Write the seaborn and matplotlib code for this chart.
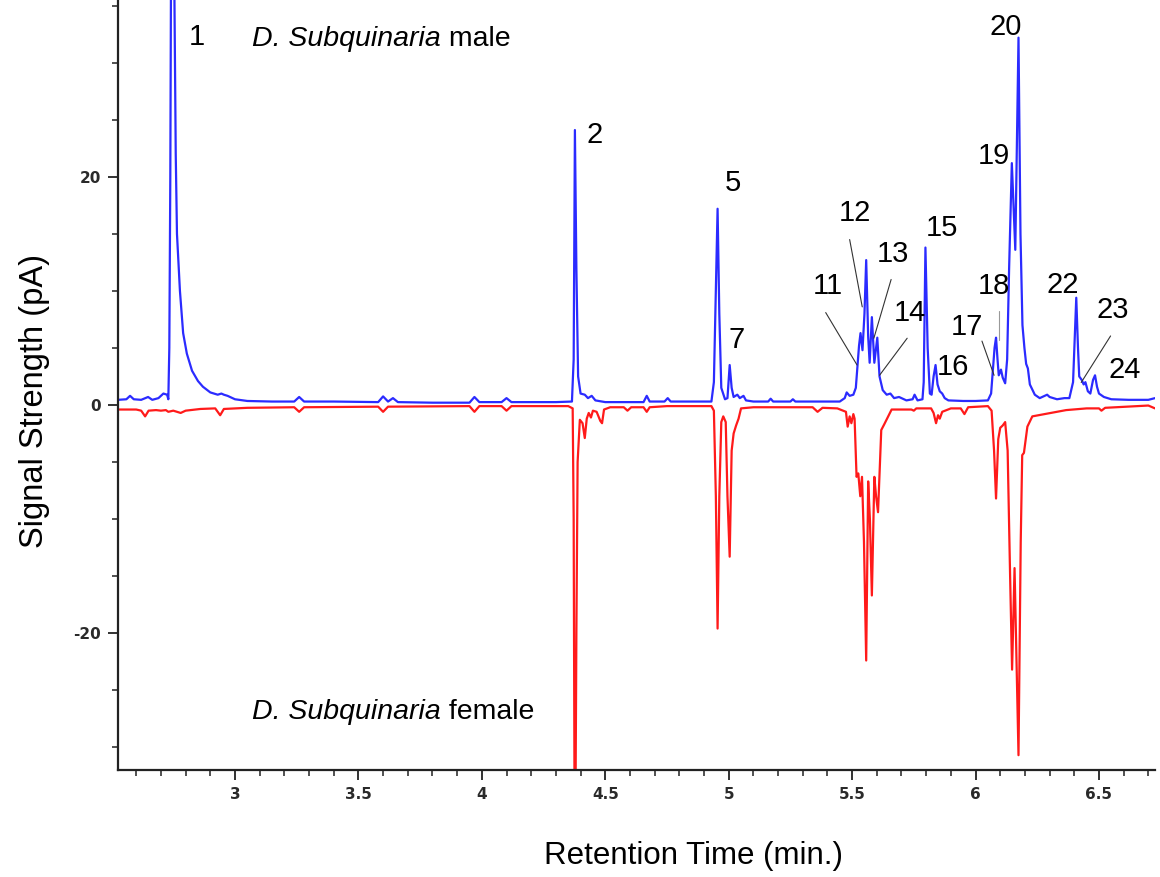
import numpy as np
import pandas as pd
import matplotlib
matplotlib.use("Agg")
import matplotlib.pyplot as plt
from matplotlib.ticker import MultipleLocator, FuncFormatter
import seaborn as sns

# ---------------- data ----------------
male_time = [2.526, 2.56, 2.575, 2.59, 2.62, 2.648, 2.665, 2.69, 2.71, 2.725,
             2.730, 2.734, 2.738, 2.742, 2.746, 2.750, 2.755, 2.760, 2.765, 2.777,
             2.79, 2.805, 2.826, 2.85, 2.87, 2.90, 2.93, 2.945, 2.955, 2.97,
             3.00, 3.05, 3.15, 3.24, 3.26, 3.28, 3.40, 3.58, 3.60, 3.62,
             3.64, 3.66, 3.80, 3.95, 3.97, 3.99, 4.08, 4.10, 4.12, 4.30,
             4.365, 4.372, 4.377, 4.383, 4.39, 4.40, 4.417, 4.43, 4.445, 4.46,
             4.50, 4.60, 4.655, 4.668, 4.68, 4.74, 4.753, 4.765, 4.93, 4.94,
             4.946, 4.955, 4.962, 4.97, 4.985, 4.995, 5.004, 5.012, 5.02, 5.035,
             5.045, 5.06, 5.07, 5.10, 5.16, 5.17, 5.18, 5.25, 5.26, 5.27,
             5.45, 5.47, 5.478, 5.49, 5.505, 5.515, 5.522, 5.528, 5.534, 5.542,
             5.550, 5.557, 5.565, 5.571, 5.58, 5.59, 5.602, 5.611, 5.624, 5.64,
             5.655, 5.67, 5.69, 5.72, 5.745, 5.753, 5.765, 5.785, 5.790, 5.797,
             5.806, 5.815, 5.822, 5.83, 5.838, 5.846, 5.855, 5.865, 5.875, 5.89,
             5.95, 6.00, 6.05, 6.063, 6.07, 6.077, 6.083, 6.089, 6.094, 6.103,
             6.11, 6.12, 6.128, 6.136, 6.147, 6.161, 6.174, 6.182, 6.19, 6.198,
             6.205, 6.212, 6.22, 6.24, 6.26, 6.28, 6.29, 6.30, 6.33, 6.36,
             6.38, 6.395, 6.408, 6.415, 6.42, 6.43, 6.438, 6.445, 6.455, 6.465,
             6.476, 6.484, 6.492, 6.50, 6.52, 6.55, 6.62, 6.70, 6.727]
male_signal = [0.45, 0.5, 0.8, 0.5, 0.45, 0.7, 0.45, 0.6, 1.0, 0.9,
               0.5, 5.0, 20.0, 45.0, 60.0, 50.0, 35.0, 22.0, 15.0, 10.0,
               6.3, 4.5, 3.0, 2.1, 1.6, 1.1, 0.9, 1.0, 0.9, 0.8,
               0.5, 0.35, 0.3, 0.3, 0.7, 0.3, 0.3, 0.25, 0.75, 0.3,
               0.6, 0.25, 0.2, 0.2, 0.7, 0.25, 0.25, 0.6, 0.25, 0.25,
               0.3, 4.0, 24.1, 12.0, 2.5, 1.0, 0.9, 0.6, 0.8, 0.4,
               0.25, 0.25, 0.25, 0.8, 0.3, 0.3, 0.6, 0.3, 0.3, 2.0,
               8.0, 17.2, 8.0, 1.5, 0.5, 0.6, 3.5, 1.5, 0.7, 0.9,
               0.6, 0.8, 0.4, 0.3, 0.3, 0.55, 0.3, 0.3, 0.5, 0.3,
               0.3, 0.6, 1.1, 0.8, 0.9, 1.5, 3.5, 5.2, 6.3, 4.8,
               8.0, 12.7, 6.0, 3.7, 7.7, 3.7, 5.9, 2.5, 1.3, 0.9,
               1.0, 0.6, 0.7, 0.4, 0.5, 0.9, 0.4, 0.5, 2.0, 13.8,
               5.0, 1.0, 0.9, 2.5, 3.5, 1.8, 1.2, 1.0, 0.6, 0.4,
               0.35, 0.35, 0.4, 1.0, 3.0, 5.0, 5.9, 4.0, 2.6, 3.1,
               2.4, 1.9, 4.0, 12.0, 21.2, 13.6, 32.2, 15.0, 7.0, 5.0,
               3.6, 3.2, 1.8, 0.9, 0.6, 0.8, 0.9, 0.7, 0.5, 0.6,
               0.6, 2.0, 9.4, 5.0, 2.5, 2.2, 1.8, 2.0, 1.2, 1.0,
               2.2, 2.6, 1.6, 1.0, 0.7, 0.5, 0.45, 0.45, 0.6]

female_time = [2.526, 2.60, 2.62, 2.636, 2.65, 2.68, 2.70, 2.72, 2.73, 2.75,
               2.78, 2.80, 2.86, 2.92, 2.94, 2.955, 3.05, 3.24, 3.26, 3.28,
               3.58, 3.60, 3.62, 3.95, 3.97, 3.99, 4.08, 4.10, 4.12, 4.35,
               4.368, 4.372, 4.377, 4.383, 4.388, 4.397, 4.408, 4.417, 4.425, 4.433,
               4.442, 4.45, 4.465, 4.48, 4.487, 4.495, 4.52, 4.575, 4.59, 4.605,
               4.655, 4.668, 4.68, 4.75, 4.93, 4.94, 4.948, 4.955, 4.962, 4.97,
               4.978, 4.988, 4.995, 5.004, 5.012, 5.02, 5.03, 5.04, 5.05, 5.10,
               5.34, 5.36, 5.38, 5.44, 5.475, 5.482, 5.49, 5.497, 5.505, 5.51,
               5.518, 5.525, 5.533, 5.54, 5.548, 5.557, 5.565, 5.572, 5.58, 5.59,
               5.597, 5.605, 5.618, 5.63, 5.66, 5.74, 5.75, 5.76, 5.82, 5.83,
               5.84, 5.848, 5.855, 5.865, 5.90, 5.94, 5.955, 5.97, 6.05, 6.065,
               6.075, 6.083, 6.092, 6.10, 6.11, 6.12, 6.13, 6.14, 6.148, 6.158,
               6.174, 6.183, 6.189, 6.196, 6.21, 6.23, 6.367, 6.45, 6.50, 6.51,
               6.525, 6.70, 6.727]
female_signal = [-0.4, -0.4, -0.5, -1.0, -0.5, -0.45, -0.5, -0.45, -0.6, -0.5,
                 -0.7, -0.5, -0.35, -0.3, -0.9, -0.35, -0.25, -0.2, -0.6, -0.2,
                 -0.15, -0.6, -0.15, -0.1, -0.6, -0.1, -0.1, -0.5, -0.1, -0.1,
                 -0.3, -10.0, -45.0, -20.0, -5.0, -1.3, -1.6, -2.9, -1.2, -0.7,
                 -1.1, -0.5, -0.6, -1.4, -1.6, -0.4, -0.2, -0.2, -0.5, -0.2,
                 -0.2, -0.6, -0.2, -0.1, -0.1, -0.5, -8.0, -19.6, -8.0, -1.5,
                 -1.0, -1.5, -8.0, -13.3, -4.0, -2.5, -1.8, -1.2, -0.3, -0.2,
                 -0.2, -0.6, -0.25, -0.3, -0.6, -1.9, -1.0, -1.6, -0.8, -1.2,
                 -6.3, -6.0, -8.0, -6.3, -12.0, -22.4, -6.7, -10.0, -16.7, -6.3,
                 -8.0, -9.4, -2.2, -1.7, -0.4, -0.4, -0.5, -0.3, -0.3, -0.7,
                 -1.6, -0.9, -1.2, -0.6, -0.3, -0.3, -0.8, -0.2, -0.1, -0.5,
                 -4.0, -8.2, -3.0, -2.0, -1.8, -1.5, -4.0, -15.0, -23.2, -14.3,
                 -30.7, -12.0, -4.4, -4.2, -1.9, -1.0, -0.45, -0.3, -0.3, -0.5,
                 -0.25, -0.05, -0.3]

# peak labels: text, label position (time, signal)
peak_labels = ["1", "2", "5", "7", "11", "12", "13", "14", "15", "16",
               "17", "18", "19", "20", "22", "23", "24"]
label_time = [2.845, 4.455, 5.016, 5.032, 5.40, 5.51, 5.664, 5.733, 5.862, 5.907,
              5.964, 6.073, 6.073, 6.124, 6.352, 6.557, 6.605]
label_signal = [32.3, 23.7, 19.5, 5.7, 10.4, 16.8, 13.2, 8.1, 15.5, 3.3,
                6.8, 10.4, 21.8, 33.1, 10.5, 8.3, 3.1]

# leader lines: (label, start time, start signal, end time, end signal)
leader_label = ["11", "12", "13", "14", "17", "18", "23"]
leader_t0 = [5.393, 5.490, 5.658, 5.723, 6.026, 6.097, 6.547]
leader_v0 = [8.1, 14.5, 11.0, 5.85, 5.6, 8.2, 6.05]
leader_t1 = [5.520, 5.541, 5.588, 5.611, 6.075, 6.097, 6.428]
leader_v1 = [3.5, 8.6, 5.85, 2.6, 2.6, 5.7, 1.97]

species = "D. Subquinaria"
sample_labels = [" male", " female"]
sample_time = [3.069, 3.069]
sample_signal = [31.5, -27.5]

x_ticks = [3, 3.5, 4, 4.5, 5, 5.5, 6, 6.5]
y_ticks = [-20, 0, 20]

# ---------------- plotting ----------------
sns.set_theme(style="white")
plt.rcParams["font.family"] = ["Liberation Sans", "DejaVu Sans"]

fig = plt.figure(figsize=(11.6, 8.77), dpi=100)
ax = fig.add_axes([0.1017, 0.122, 0.8940, 0.878])

male = pd.DataFrame({"time": male_time, "signal": male_signal})
female = pd.DataFrame({"time": female_time, "signal": female_signal})

sns.lineplot(data=male, x="time", y="signal", ax=ax, color="#2b2bff",
             lw=1.6, estimator=None, sort=False)
sns.lineplot(data=female, x="time", y="signal", ax=ax, color="#ff1a1a",
             lw=1.6, estimator=None, sort=False)

ax.set_xlim(2.526, 6.727)
ax.set_ylim(-32.0, 35.5)

for s in ["top", "right"]:
    ax.spines[s].set_visible(False)
for s in ["left", "bottom"]:
    ax.spines[s].set_color("#222222")
    ax.spines[s].set_linewidth(1.6)

ax.set_xticks(x_ticks)
ax.set_yticks(y_ticks)
ax.xaxis.set_minor_locator(MultipleLocator(0.1))
ax.yaxis.set_minor_locator(MultipleLocator(5))
fmt = FuncFormatter(lambda v, p: ("%g" % v))
ax.xaxis.set_major_formatter(fmt)
ax.yaxis.set_major_formatter(fmt)
ax.tick_params(axis="both", which="major", direction="out", length=7, width=1.3,
               color="#222222", labelsize=11, labelcolor="#2a2a2a", pad=5,
               bottom=True, left=True)
ax.tick_params(axis="both", which="minor", direction="out", length=4, width=1.1,
               color="#222222", bottom=True, left=True)
for lab in ax.get_xticklabels() + ax.get_yticklabels():
    lab.set_family("DejaVu Sans")
    lab.set_fontweight("bold")

ax.set_xlabel("Retention Time (min.)", fontsize=22.5, color="black")
ax.set_ylabel("Signal Strength (pA)", fontsize=23.5, color="black")
ax.xaxis.set_label_coords(0.5545, -0.092)
ax.yaxis.set_label_coords(-0.066, 0.479)

for txt, t, v in zip(peak_labels, label_time, label_signal):
    ax.text(t, v, txt, fontsize=21, ha="center", va="center", color="black")

for lab, t0, v0, t1, v1 in zip(leader_label, leader_t0, leader_v0, leader_t1, leader_v1):
    ax.plot([t0, t1], [v0, v1], color="#999999" if lab == "18" else "#333333", lw=0.8)

for word, t, v in zip(sample_labels, sample_time, sample_signal):
    t1 = ax.text(t, v, species, fontsize=20.5, fontstyle="italic",
                 ha="left", va="baseline", color="black")
    ax.annotate(word, xy=(1, 0), xycoords=t1, fontsize=20.5, ha="left",
                va="bottom", color="black")

fig.savefig("out.png", dpi=100)
